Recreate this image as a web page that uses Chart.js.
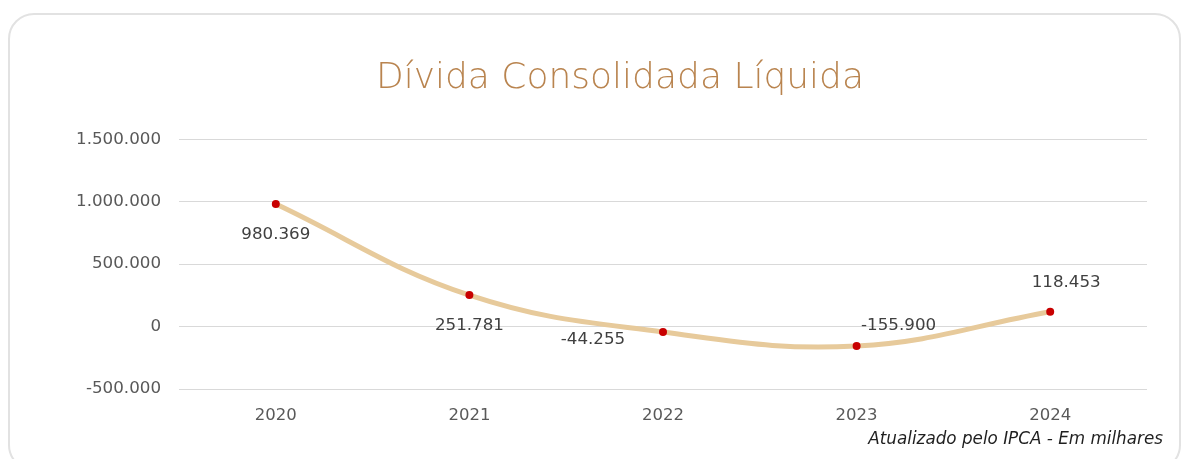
<!DOCTYPE html>
<html>
<head>
<meta charset="utf-8">
<script src="https://cdn.jsdelivr.net/npm/chart.js@4/dist/chart.umd.min.js"></script>
<style>
  html, body { margin: 0; padding: 0; background: #ffffff; }
  body { width: 1184px; height: 459px; position: relative; overflow: hidden; }
  #card { position: absolute; left: 8px; top: 13px; width: 1173px; height: 458px; box-sizing: border-box;
          border: 2px solid #e2e2e2; border-radius: 26px; background: #fff; }
  #wrap { position: absolute; left: 0; top: 0; width: 1184px; height: 459px; }
  #note { position: absolute; right: 21px; top: 427px; font-family: "DejaVu Sans", sans-serif; font-style: italic;
          font-size: 16.8px; line-height: 22px; color: #1f1f1f; white-space: nowrap; }
</style>
</head>
<body>
<div id="card"></div>
<div id="wrap"><canvas id="c" width="1184" height="459"></canvas></div>
<div id="note">Atualizado pelo IPCA - Em milhares</div>
<script>
const titleText = "Dívida Consolidada Líquida";
const years = ["2020", "2021", "2022", "2023", "2024"];
const values = [980369, 251781, -44255, -155900, 118453];
const yTicks = [-500000, 0, 500000, 1000000, 1500000];
// label placement relative to each point
const labelPlacement = ['below', 'below', 'belowLeft', 'aboveRight', 'above'];

function fmtBR(v) {
  const neg = v < 0;
  let s = Math.round(Math.abs(v)).toString();
  s = s.replace(/\B(?=(\d{3})+(?!\d))/g, '.');
  return (neg ? '-' : '') + s;
}

const dataLabels = {
  id: 'dataLabels',
  afterLayout(chart) {
    // shift the title block so it is centred where the reference has it
    const tb = chart.titleBlock;
    if (tb) { tb.left += 13.5; tb.right += 13.5; }
  },
  afterDatasetsDraw(chart) {
    const ctx = chart.ctx;
    const meta = chart.getDatasetMeta(0);
    ctx.save();
    ctx.font = '16.7px "DejaVu Sans"';
    ctx.fillStyle = '#404040';
    ctx.textBaseline = 'middle';
    ctx.textAlign = 'center';
    meta.data.forEach((pt, i) => {
      const txt = fmtBR(values[i]);
      let dx = 0, dy = 0;
      switch (labelPlacement[i]) {
        case 'below': dx = 0; dy = 31; break;
        case 'above': dx = 16; dy = -29; break;
        case 'belowLeft': dx = -70; dy = 8; break;
        case 'aboveRight': dx = 42; dy = -20; break;
      }
      ctx.fillText(txt, pt.x + dx, pt.y + dy);
    });
    ctx.restore();
  }
};

new Chart(document.getElementById('c'), {
  type: 'line',
  data: {
    labels: years,
    datasets: [{
      data: values,
      borderColor: '#e7ca9b',
      borderWidth: 5,
      tension: 0.4,
      pointRadius: 4,
      pointBackgroundColor: '#c80000',
      pointBorderColor: '#c80000',
      pointBorderWidth: 0,
      clip: false
    }]
  },
  options: {
    responsive: false,
    animation: false,
    layout: { padding: { left: 66, right: 37, top: 0, bottom: 30 } },
    plugins: {
      legend: { display: false },
      tooltip: { enabled: false },
      title: {
        display: true,
        text: titleText,
        color: '#b9844f',
        font: { family: '"DejaVu Sans"', size: 36, weight: '300' },
        padding: { top: 57, bottom: 39 }
      }
    },
    scales: {
      x: {
        offset: true,
        afterFit: (s) => { s.height = 40; },
        grid: { display: false, drawTicks: false },
        border: { display: false },
        ticks: {
          padding: 17,
          color: '#595959',
          font: { family: '"DejaVu Sans"', size: 16.5 }
        }
      },
      y: {
        min: -500000,
        max: 1500000,
        afterBuildTicks: (s) => { s.ticks = yTicks.map(v => ({ value: v })); },
        afterFit: (s) => { s.width = 113; },
        grid: { color: '#d9d9d9', lineWidth: 1, drawTicks: false },
        border: { display: false },
        ticks: {
          padding: 18,
          color: '#595959',
          font: { family: '"DejaVu Sans"', size: 16.7 },
          callback: (v) => fmtBR(v)
        }
      }
    }
  },
  plugins: [dataLabels]
});
</script>
</body>
</html>
